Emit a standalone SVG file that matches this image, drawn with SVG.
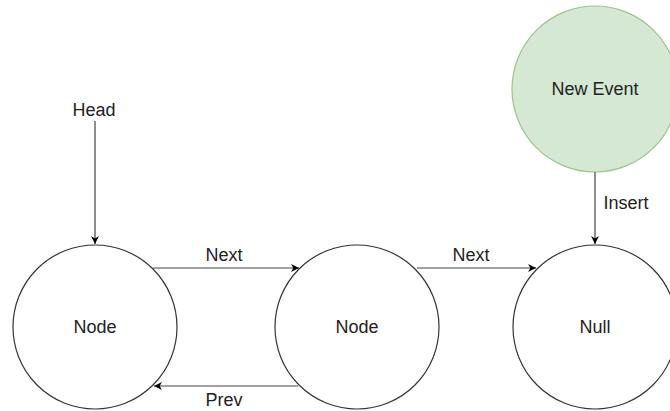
<svg xmlns="http://www.w3.org/2000/svg" width="670" height="411" viewBox="0 0 670 411">
<defs>
<marker id="arr" viewBox="0 0 10 10" refX="10" refY="5" markerWidth="8" markerHeight="8" markerUnits="userSpaceOnUse" orient="auto">
<path d="M0,0 L10,5 L0,10 L3,5 Z" fill="#000"/>
</marker>
</defs>
<style>
.n{fill:#fff;stroke:#333;stroke-width:1.2}
.g{fill:#d5e8d4;stroke:#9ac48a;stroke-width:1.2}
.t{font-family:"Liberation Sans",Arial,sans-serif;font-size:18px;fill:#222;text-anchor:middle;dominant-baseline:central}
.l{stroke:#444;stroke-width:1.2;fill:none;marker-end:url(#arr)}
</style>
<rect width="670" height="411" fill="#fff"/>
<g id="head"><text class="t" x="94" y="110">Head</text></g>
<g id="node1"><circle class="n" cx="95" cy="327" r="82"/><text class="t" x="95" y="327">Node</text></g>
<g id="node2"><circle class="n" cx="357" cy="327" r="82"/><text class="t" x="357" y="327">Node</text></g>
<g id="null"><circle class="n" cx="595" cy="327" r="82"/><text class="t" x="595" y="327">Null</text></g>
<g id="newevent"><circle class="g" cx="595" cy="89" r="83"/><text class="t" x="595" y="89">New Event</text></g>
<g id="connectors">
<line class="l" x1="95" y1="121" x2="95" y2="244"/>
<line class="l" x1="153" y1="268" x2="299" y2="268"/>
<line class="l" x1="298" y1="386" x2="154" y2="386"/>
<line class="l" x1="417" y1="268" x2="536" y2="268"/>
<line class="l" x1="595" y1="172" x2="595" y2="244"/>
<text class="t" x="224" y="255">Next</text>
<text class="t" x="224" y="400">Prev</text>
<text class="t" x="471" y="255">Next</text>
<text class="t" x="626" y="203">Insert</text>
</g>
</svg>
